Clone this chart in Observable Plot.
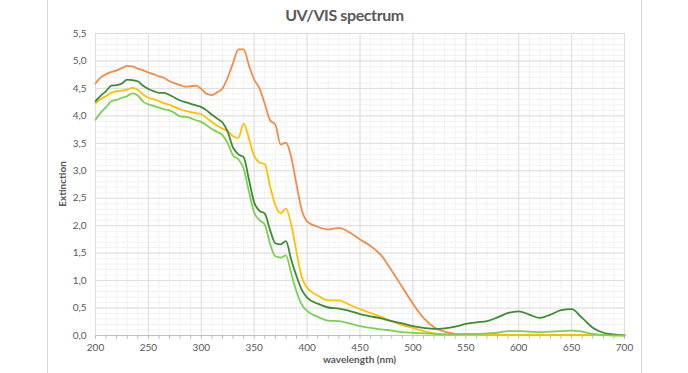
<!DOCTYPE html>
<html><head><meta charset="utf-8">
<script src="https://cdn.jsdelivr.net/npm/d3@7"></script>
<script src="https://cdn.jsdelivr.net/npm/@observablehq/plot@0.6"></script>
<style>
body{margin:0;background:#fff;}
#wrap{position:relative;width:688px;height:373px;overflow:hidden;font-family:Lato,"Open Sans",sans-serif;}
#frame{position:absolute;left:47px;top:0;width:595px;height:373px;border-left:1px solid #D9D9D9;border-right:1px solid #D9D9D9;box-sizing:border-box;}
#title{position:absolute;left:47px;width:595px;top:5px;text-align:center;font-weight:bold;font-size:16px;letter-spacing:-0.4px;line-height:20px;color:#595959;}
#xlab{position:absolute;left:95px;width:529px;top:353px;text-align:center;font-weight:bold;font-size:10px;line-height:12px;color:#595959;}
#ylab{position:absolute;left:62px;top:184px;transform:translate(-50%,-50%) rotate(-90deg);font-weight:bold;font-size:10px;line-height:12px;color:#595959;white-space:nowrap;}
#chart{position:absolute;left:0;top:0;}
</style></head>
<body>
<div id="wrap">
  <div id="frame"></div>
  <div id="chart"></div>
  <div id="title">UV/VIS spectrum</div>
  <div id="xlab">wavelength (nm)</div>
  <div id="ylab">Extinction</div>
</div>
<script>
const wavelengths = [200,205,210,215,220,225,230,235,240,245,250,255,260,265,270,275,280,285,290,295,300,305,310,315,320,325,330,335,340,345,350,355,360,365,370,375,380,385,390,395,400,
410,420,430,440,450,460,470,480,490,500,510,520,530,540,550,560,570,580,590,600,610,620,630,640,650,660,670,680,690,700];

const sample1 = [4.59,4.70,4.76,4.80,4.83,4.87,4.91,4.90,4.86,4.83,4.79,4.76,4.72,4.69,4.63,4.59,4.56,4.53,4.54,4.55,4.49,4.40,4.38,4.43,4.50,4.70,4.96,5.21,5.21,4.92,4.66,4.50,4.22,3.92,3.84,3.48,3.51,3.25,2.75,2.28,2.08,
1.98,1.93,1.96,1.88,1.75,1.63,1.46,1.18,0.88,0.58,0.32,0.15,0.07,0.03,0.02,0.02,0.01,0.01,0.01,0.01,0.01,0.01,0.01,0.01,0.01,0.01,0.01,0.01,0.01,0.01];

const sample2 = [4.23,4.31,4.36,4.42,4.45,4.46,4.48,4.51,4.47,4.39,4.33,4.30,4.27,4.23,4.20,4.16,4.12,4.09,4.07,4.05,4.03,3.96,3.89,3.82,3.77,3.72,3.63,3.60,3.86,3.59,3.27,3.15,3.12,2.72,2.37,2.23,2.31,2.02,1.52,1.06,0.87,
0.73,0.64,0.64,0.56,0.48,0.41,0.34,0.26,0.19,0.14,0.08,0.04,0.02,0.01,0.01,0.01,0.01,0.01,0.01,0.01,0.01,0.01,0.01,0.01,0.01,0.01,0.01,0.01,0.01,0.01];

const sample3 = [4.27,4.37,4.45,4.55,4.56,4.59,4.66,4.65,4.63,4.55,4.49,4.45,4.42,4.42,4.38,4.33,4.28,4.25,4.22,4.19,4.16,4.10,4.02,3.95,3.88,3.71,3.42,3.30,3.25,2.84,2.42,2.27,2.22,1.92,1.68,1.66,1.72,1.38,1.08,0.83,0.69,
0.58,0.51,0.49,0.45,0.39,0.35,0.31,0.26,0.22,0.17,0.14,0.12,0.13,0.16,0.21,0.24,0.26,0.33,0.41,0.44,0.38,0.32,0.38,0.46,0.48,0.32,0.14,0.05,0.02,0.00];

const sample4 = [3.93,4.06,4.16,4.27,4.29,4.33,4.36,4.41,4.37,4.26,4.21,4.18,4.15,4.12,4.10,4.05,3.99,3.98,3.96,3.92,3.89,3.83,3.76,3.71,3.65,3.50,3.28,3.21,3.04,2.62,2.24,2.10,2.02,1.67,1.44,1.42,1.46,1.13,0.80,0.56,0.45,
0.34,0.27,0.26,0.22,0.17,0.14,0.11,0.09,0.06,0.05,0.04,0.03,0.02,0.02,0.03,0.03,0.04,0.05,0.08,0.08,0.07,0.06,0.07,0.08,0.09,0.07,0.03,0.01,0.00,0.00];

const seriesNames = ["Sample 1","Sample 2","Sample 3","Sample 4"];
const seriesValues = [sample1, sample2, sample3, sample4];
const seriesColors = ["#F58B45","#FFC000","#3B8C34","#7BD152"];
const xMajorTicks = d3.range(200, 701, 50);
const xMinorTicks = d3.range(200, 701, 10);
const yMajorTicks = d3.range(0, 5.51, 0.5);
const yMinorTicks = d3.range(0, 5.51, 0.1);

const rows = [];
seriesNames.forEach((s, i) => wavelengths.forEach((w, j) => rows.push({series: s, wl: w, v: seriesValues[i][j]})));

const fmt = d => d.toFixed(1).replace(".", ",");

const chart = Plot.plot({
  width: 688, height: 373,
  marginLeft: 95, marginRight: 64, marginTop: 33, marginBottom: 38,
  style: {background: "transparent", fontFamily: "Lato, 'Open Sans', sans-serif", fontSize: "10px", color: "#595959", overflow: "visible"},
  x: {domain: [200, 700]},
  y: {domain: [0, 5.5]},
  color: {type: "ordinal", domain: seriesNames, range: seriesColors},
  marks: [
    Plot.gridX(xMinorTicks, {stroke: "#F3F3F3", strokeOpacity: 1}),
    Plot.gridY(yMinorTicks, {stroke: "#F3F3F3", strokeOpacity: 1}),
    Plot.gridX(xMajorTicks, {stroke: "#DEDEDE", strokeOpacity: 1}),
    Plot.gridY(yMajorTicks, {stroke: "#DEDEDE", strokeOpacity: 1}),
    Plot.axisX(xMinorTicks, {tickSize: 4, tickFormat: () => "", stroke: "#BFBFBF", label: null}),
    Plot.axisX(xMajorTicks, {tickSize: 0, tickPadding: 8, tickFormat: d => String(d), fill: "#595959", label: null}),
    Plot.axisY(yMajorTicks, {tickSize: 0, tickPadding: 9, tickFormat: fmt, fill: "#595959", label: null}),
    Plot.ruleY([0], {stroke: "#BFBFBF"}),
    Plot.line(rows, {x: "wl", y: "v", z: "series", stroke: "series", strokeWidth: 1.8, curve: "monotone-x"})
  ]
});
document.getElementById("chart").appendChild(chart);
</script>
</body></html>
